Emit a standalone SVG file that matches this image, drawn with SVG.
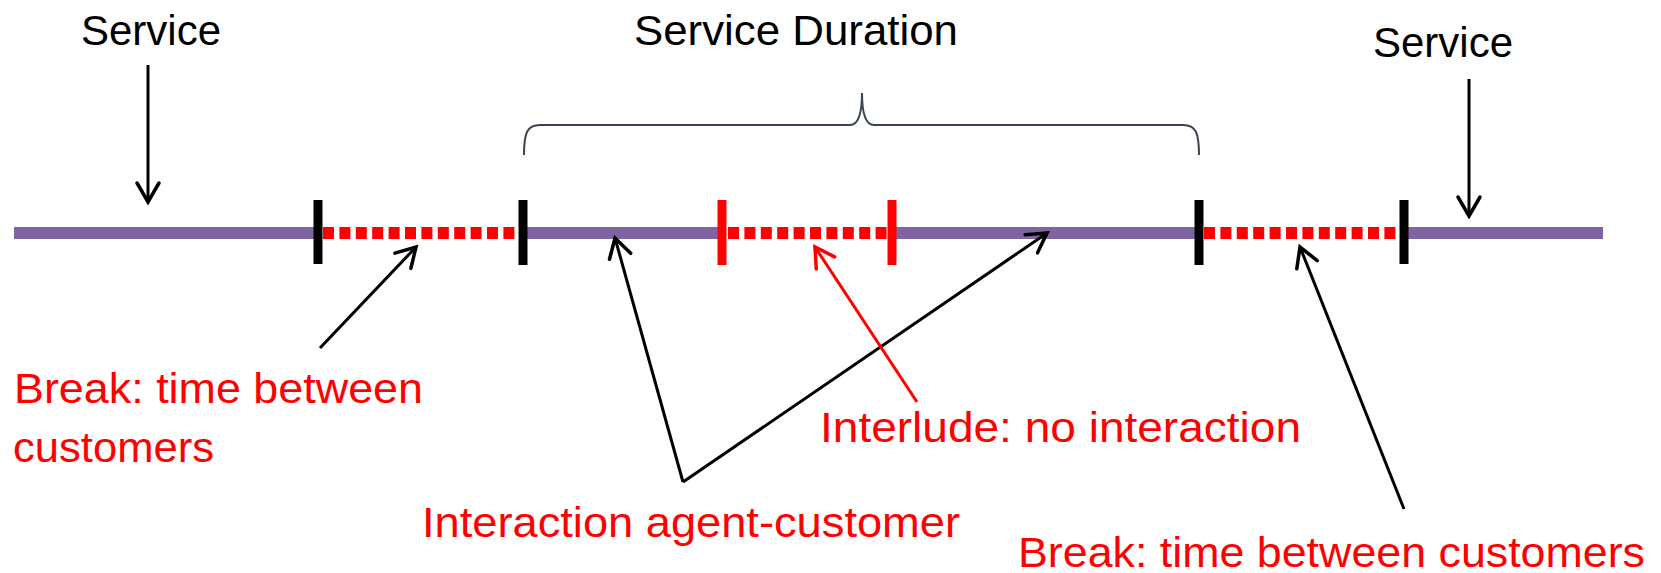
<svg xmlns="http://www.w3.org/2000/svg" width="1661" height="573" viewBox="0 0 1661 573">
<style>
  .lbl { font-family: "Liberation Sans", Arial, sans-serif; font-size: 42px; }
  .blk { fill: #000000; }
  .red { fill: #FF0000; }
  .svc { stroke: #8064A2; stroke-width: 12; fill: none; }
  .brk { stroke: #FF0000; stroke-width: 12; fill: none; stroke-dasharray: 11 5.4; }
  .tick { stroke: #000000; stroke-width: 9; }
  .rtick { stroke: #FF0000; stroke-width: 9; }
  .conn { stroke: #000000; stroke-width: 3; fill: none; }
  .connr { stroke: #FF0000; stroke-width: 3; fill: none; }
  .brace { stroke: #3a4450; stroke-width: 2; fill: none; }
</style>
<defs>
  <marker id="ah" markerUnits="userSpaceOnUse" markerWidth="30" markerHeight="30" viewBox="-25 -15 30 30" refX="0" refY="0" orient="auto">
    <path d="M-19,-11 L0,0 L-19,11" fill="none" stroke="#000000" stroke-width="3.5" stroke-linejoin="miter" stroke-linecap="round"/>
  </marker>
  <marker id="ahr" markerUnits="userSpaceOnUse" markerWidth="30" markerHeight="30" viewBox="-25 -15 30 30" refX="0" refY="0" orient="auto">
    <path d="M-19,-11 L0,0 L-19,11" fill="none" stroke="#FF0000" stroke-width="3.5" stroke-linejoin="miter" stroke-linecap="round"/>
  </marker>
</defs>
<rect width="1661" height="573" fill="#ffffff"/>

<g id="timeline">
  <line class="svc" x1="14" y1="233" x2="318" y2="233"/>
  <line class="brk" x1="323" y1="233" x2="519" y2="233"/>
  <line class="svc" x1="523" y1="233" x2="722" y2="233"/>
  <line class="brk" x1="728" y1="233" x2="888" y2="233"/>
  <line class="svc" x1="892" y1="233" x2="1199" y2="233"/>
  <line class="brk" x1="1204" y1="233" x2="1400" y2="233"/>
  <line class="svc" x1="1404" y1="233" x2="1603" y2="233"/>
  <line class="tick" x1="318" y1="200" x2="318" y2="264"/>
  <line class="tick" x1="523" y1="200" x2="523" y2="265"/>
  <line class="rtick" x1="722" y1="200" x2="722" y2="265"/>
  <line class="rtick" x1="892" y1="200" x2="892" y2="265"/>
  <line class="tick" x1="1199" y1="200" x2="1199" y2="265"/>
  <line class="tick" x1="1404" y1="200" x2="1404" y2="264"/>
</g>

<g id="brace">
  <path class="brace" d="M524,155 C524,133 527,125 540,125 L850,125 Q862,125 862,93 Q862,125 874,125 L1183,125 C1196,125 1199,133 1199,155"/>
</g>

<g id="label-service-left">
  <text class="lbl blk" x="81" y="45" textLength="140" lengthAdjust="spacingAndGlyphs">Service</text>
</g>
<g id="label-service-duration">
  <text class="lbl blk" x="634" y="45" textLength="324" lengthAdjust="spacingAndGlyphs">Service Duration</text>
</g>
<g id="label-service-right">
  <text class="lbl blk" x="1373" y="57" textLength="140" lengthAdjust="spacingAndGlyphs">Service</text>
</g>
<g id="label-break-left">
  <text class="lbl red" x="14" y="403" textLength="409" lengthAdjust="spacingAndGlyphs">Break: time between</text>
  <text class="lbl red" x="13" y="462" textLength="201" lengthAdjust="spacingAndGlyphs">customers</text>
</g>
<g id="label-interlude">
  <text class="lbl red" x="820" y="442" textLength="481" lengthAdjust="spacingAndGlyphs">Interlude: no interaction</text>
</g>
<g id="label-interaction">
  <text class="lbl red" x="422" y="537" textLength="538" lengthAdjust="spacingAndGlyphs">Interaction agent-customer</text>
</g>
<g id="label-break-right">
  <text class="lbl red" x="1018" y="567" textLength="627" lengthAdjust="spacingAndGlyphs">Break: time between customers</text>
</g>

<g id="connectors">
  <line class="conn" x1="148" y1="65" x2="148" y2="202" marker-end="url(#ah)"/>
  <line class="conn" x1="1469" y1="79" x2="1469" y2="216" marker-end="url(#ah)"/>
  <line class="conn" x1="320" y1="348" x2="416" y2="247" marker-end="url(#ah)"/>
  <line class="conn" x1="683" y1="482" x2="615" y2="238" marker-end="url(#ah)"/>
  <line class="conn" x1="683" y1="482" x2="1047" y2="233" marker-end="url(#ah)"/>
  <line class="connr" x1="917" y1="402" x2="815" y2="247" marker-end="url(#ahr)"/>
  <line class="conn" x1="1404" y1="509" x2="1300" y2="247" marker-end="url(#ah)"/>
</g>
</svg>
